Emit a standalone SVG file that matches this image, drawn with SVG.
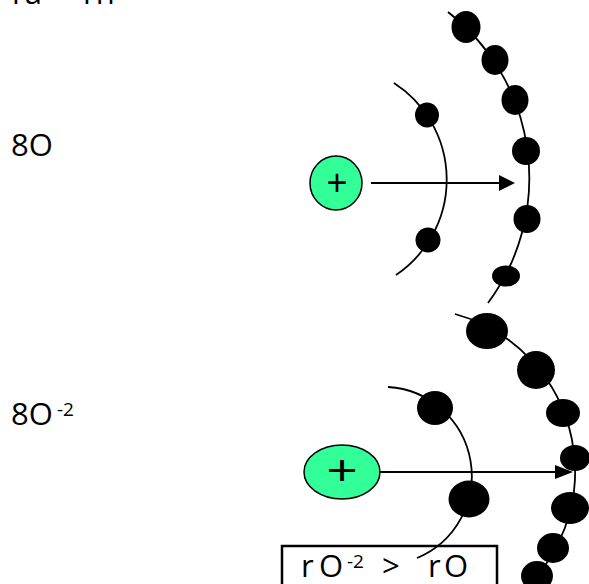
<svg xmlns="http://www.w3.org/2000/svg" width="589" height="584" viewBox="0 0 589 584">
  <style>
    .label { font-family: "Open Sans", "Liberation Sans", sans-serif; font-size: 31px; fill: #000; }
    .sup { font-size: 19px; }
    .shell { fill: none; stroke: #000; stroke-width: 1.8; }
    .electron { fill: #000; }
    .nucleus { fill: #33FF99; stroke: #000; stroke-width: 1.5; }
    .plus { font-family: "Liberation Sans", sans-serif; fill: #000; text-anchor: middle; }
    .arrow { stroke: #000; stroke-width: 2; fill: none; }
    .head { fill: #000; }
  </style>
  <rect width="589" height="584" fill="#fff"/>

  <!-- heading, mostly above the top edge -->
  <text class="label" x="12" y="4">ra<tspan x="50">&gt;</tspan><tspan x="83">rn</tspan></text>

  <!-- labels -->
  <text id="label-o" class="label" x="11" y="156">8O</text>
  <text id="label-o2" class="label" x="11" y="425">8O<tspan class="sup" x="57" dy="-9">-2</tspan></text>

  <!-- neutral atom -->
  <g id="atom-o-inner-shell">
    <path class="shell" d="M 394 83 A 115 115 0 0 1 396 275"/>
    <ellipse class="electron" cx="427" cy="115" rx="12" ry="12.5"/>
    <ellipse class="electron" cx="428" cy="240" rx="12.5" ry="12.5"/>
  </g>
  <g id="atom-o-outer-shell">
    <path class="shell" d="M 448 12 A 210 210 0 0 1 488 303"/>
    <ellipse class="electron" cx="466" cy="27" rx="14.5" ry="16"/>
    <ellipse class="electron" cx="495" cy="60" rx="13.5" ry="15"/>
    <ellipse class="electron" cx="515" cy="100" rx="13.5" ry="15"/>
    <ellipse class="electron" cx="526" cy="151" rx="14" ry="14"/>
    <ellipse class="electron" cx="527" cy="219" rx="13.5" ry="14"/>
    <ellipse class="electron" cx="506" cy="276" rx="14" ry="10.5"/>
  </g>
  <g id="atom-o-nucleus">
    <ellipse class="nucleus" cx="336" cy="183" rx="26" ry="27"/>
    <text class="plus" x="337" y="195" font-size="36">+</text>
  </g>

  <!-- anion -->
  <g id="ion-o2-inner-shell">
    <path class="shell" d="M 388 387 A 89 89 0 0 1 417 558"/>
    <ellipse class="electron" cx="435" cy="408" rx="18" ry="17"/>
    <ellipse class="electron" cx="469" cy="499" rx="20.5" ry="18.5"/>
  </g>
  <g id="ion-o2-outer-shell">
    <path class="shell" d="M 455 314 A 163 163 0 0 1 512 600"/>
    <ellipse class="electron" cx="487" cy="331" rx="21" ry="18"/>
    <ellipse class="electron" cx="536" cy="370" rx="19" ry="19"/>
    <ellipse class="electron" cx="563" cy="413" rx="17" ry="14"/>
    <ellipse class="electron" cx="575" cy="458" rx="15" ry="13"/>
    <ellipse class="electron" cx="570" cy="508" rx="19" ry="16"/>
    <ellipse class="electron" cx="553" cy="548" rx="16" ry="15"/>
    <ellipse class="electron" cx="537" cy="576" rx="16" ry="15"/>
  </g>
  <g id="ion-o2-nucleus">
    <ellipse class="nucleus" cx="342" cy="472" rx="38" ry="27"/>
    <text class="plus" x="0" y="0" font-size="38" transform="translate(342 485) scale(1.4 1.1)">+</text>
  </g>

  <!-- radius arrows -->
  <g id="connectors">
    <line class="arrow" x1="371" y1="183" x2="500" y2="183"/>
    <polygon class="head" points="499,175 515,183 499,191"/>
    <line class="arrow" x1="379" y1="472" x2="556" y2="472"/>
    <polygon class="head" points="555,465 573,472 555,479"/>
  </g>

  <!-- comparison box -->
  <g id="comparison">
    <rect x="282" y="546" width="215" height="50" fill="none" stroke="#000" stroke-width="2.5"/>
    <text class="label" y="577"><tspan x="301">r</tspan><tspan x="319">O</tspan><tspan class="sup" x="347" dy="-9">-2</tspan><tspan x="382" dy="9">&gt;</tspan><tspan x="428">r</tspan><tspan x="444">O</tspan></text>
  </g>
</svg>
